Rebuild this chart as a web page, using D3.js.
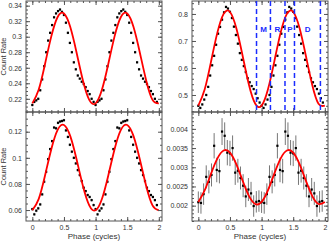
<!DOCTYPE html>
<html>
<head>
<meta charset="utf-8">
<script src="https://cdn.jsdelivr.net/npm/d3@7"></script>
<style>
body { margin: 0; background: #fff; }
text { font-family: "Liberation Sans", Arial, sans-serif; }
</style>
</head>
<body>
<div id="chart"></div>
<script>
// folded light curves, one cycle of bins each, plotted twice
var tlRate = [0.212, 0.216, 0.218, 0.220, 0.231, 0.245, 0.262, 0.280, 0.295, 0.305, 0.315, 0.325,
  0.330, 0.333, 0.335, 0.332, 0.328, 0.318, 0.305, 0.292, 0.280, 0.267, 0.258, 0.250,
  0.246, 0.242, 0.239, 0.235, 0.230, 0.226, 0.220, 0.216];
var trRate = [0.460, 0.452, 0.465, 0.483, 0.500, 0.530, 0.572, 0.610, 0.645, 0.686, 0.727, 0.752,
  0.779, 0.806, 0.826, 0.820, 0.808, 0.785, 0.753, 0.722, 0.690, 0.655, 0.630, 0.607,
  0.585, 0.562, 0.547, 0.533, 0.522, 0.505, 0.488, 0.472];
var blRate = [0.0607, 0.0567, 0.0595, 0.0613, 0.0643, 0.0720, 0.0817, 0.0893, 0.0990, 0.1067, 0.1128, 0.1232,
  0.1226, 0.1268, 0.1278, 0.1282, 0.1288, 0.1210, 0.1160, 0.1100, 0.1047, 0.1000, 0.0957, 0.0906,
  0.0868, 0.0822, 0.0771, 0.0745, 0.0715, 0.0700, 0.0676, 0.0638];
var brRate = [0.00209, 0.00207, 0.00230, 0.00275, 0.00262, 0.00280, 0.00356, 0.00293, 0.00290, 0.00393, 0.00382, 0.00338,
  0.00336, 0.00350, 0.00286, 0.00291, 0.00272, 0.00252, 0.00224, 0.00242, 0.00232, 0.00199, 0.00210, 0.00212];
var brErr = [0.00028, 0.00028, 0.00028, 0.00030, 0.00030, 0.00030, 0.00033, 0.00032, 0.00032, 0.00035, 0.00035, 0.00033,
  0.00033, 0.00033, 0.00032, 0.00031, 0.00030, 0.00030, 0.00028, 0.00030, 0.00030, 0.00028, 0.00028, 0.00028];

// sinusoid fits read at 0.1 phase steps
var fitPhase = [0, 0.1, 0.2, 0.3, 0.4, 0.5, 0.6, 0.7, 0.8, 0.9, 1.0];
var tlFit = [0.2141, 0.2316, 0.2646, 0.3004, 0.3254, 0.3299, 0.3124, 0.2794, 0.2436, 0.2186, 0.2141];
var trFit = [0.4606, 0.5200, 0.6227, 0.7300, 0.8005, 0.8074, 0.7480, 0.6453, 0.5380, 0.4675, 0.4606];
var blFit = [0.0598, 0.0684, 0.0863, 0.1066, 0.1214, 0.1252, 0.1166, 0.0987, 0.0784, 0.0636, 0.0598];
var brFit = [0.002097, 0.002398, 0.002829, 0.003226, 0.003437, 0.003383, 0.003082, 0.002651, 0.002254, 0.002043, 0.002097];

// tick values
var phaseTicks = [0, 0.5, 1, 1.5, 2];
var tlTicks = [0.22, 0.24, 0.26, 0.28, 0.3, 0.32, 0.34];
var trTicks = [0.5, 0.6, 0.7, 0.8];
var blTicks = [0.06, 0.08, 0.1, 0.12];
var brTicks = [0.002, 0.0025, 0.003, 0.0035, 0.004];

// phase-region boundaries in the top right panel
var cutPhase = [0.92, 1.14, 1.37, 1.52, 1.93];
var regionNames = ["M", "R", "P", "D"];
var regionPhase = [1.03, 1.25, 1.45, 1.73];

var width = 331;
var height = 241;
var colX = [[26, 162], [192, 328]];
var rowY = [[1, 112], [112, 221]];
var axisCol = "#555";
var textCol = "#333";

var svg = d3.select("#chart")
  .append("svg")
  .attr("width", width)
  .attr("height", height);

var panels = [
  { col: 0, row: 0, rate: tlRate, err: 0.0018, fit: tlFit, ticks: tlTicks, minor: 0.005, yDom: [0.203, 0.346] },
  { col: 1, row: 0, rate: trRate, err: 0.005, fit: trFit, ticks: trTicks, minor: 0.02, yDom: [0.437, 0.848] },
  { col: 0, row: 1, rate: blRate, err: 0.0012, fit: blFit, ticks: blTicks, minor: 0.005, yDom: [0.0516, 0.1351] },
  { col: 1, row: 1, rate: brRate, err: brErr, fit: brFit, ticks: brTicks, minor: 0.0001, yDom: [0.0016, 0.00444] }
];

function styleAxis(g) {
  g.select(".domain").remove();
  g.selectAll("line").attr("stroke", axisCol);
  g.selectAll("text").attr("fill", textCol).attr("font-size", 7)
    .attr("font-family", "Liberation Sans, Arial, sans-serif");
}

function drawPanel(p) {
  var x0 = colX[p.col][0], x1 = colX[p.col][1];
  var y0 = rowY[p.row][0], y1 = rowY[p.row][1];
  var x = d3.scaleLinear().domain([-0.1, 2.05]).range([x0, x1]);
  var y = d3.scaleLinear().domain(p.yDom).range([y1, y0]);
  var g = svg.append("g");

  // two cycles of points
  var pts = [];
  [0, 1].forEach(function(c) {
    p.rate.forEach(function(v, i) {
      pts.push({ ph: i / p.rate.length + c, v: v, e: Array.isArray(p.err) ? p.err[i] : p.err });
    });
  });
  var fitPts = [];
  [0, 1].forEach(function(c) {
    p.fit.forEach(function(v, i) {
      if (c == 1 && i == 0) return;
      fitPts.push({ ph: fitPhase[i] + c, v: v });
    });
  });

  g.selectAll(".err").data(pts).enter().append("line")
    .attr("x1", d => x(d.ph)).attr("x2", d => x(d.ph))
    .attr("y1", d => y(d.v - d.e)).attr("y2", d => y(d.v + d.e))
    .attr("stroke", p.col == 1 && p.row == 1 ? "#777" : "#bbb")
    .attr("stroke-width", 1);

  g.selectAll(".pt").data(pts).enter().append("rect")
    .attr("x", d => x(d.ph) - 1.1).attr("y", d => y(d.v) - 1.1)
    .attr("width", 2.2).attr("height", 2.2)
    .attr("fill", "#000");

  g.append("path").datum(fitPts)
    .attr("fill", "none").attr("stroke", "#f00").attr("stroke-width", 1.8)
    .attr("d", d3.line().x(d => x(d.ph)).y(d => y(d.v)).curve(d3.curveNatural));

  // axes, ticks pointing inward on all four sides
  var yMinor = d3.range(Math.ceil(p.yDom[0] / p.minor), p.yDom[1] / p.minor).map(k => k * p.minor);
  var xMinor = d3.range(0, 21).map(k => k / 10);

  g.append("g").attr("transform", "translate(" + x0 + ",0)")
    .call(d3.axisLeft(y).tickValues(p.ticks).tickSize(-4).tickSizeOuter(0)
      .tickPadding(4).tickFormat(d => String(d)))
    .call(styleAxis);
  g.append("g").attr("transform", "translate(" + x0 + ",0)")
    .call(d3.axisLeft(y).tickValues(yMinor).tickSize(-2).tickSizeOuter(0).tickFormat(""))
    .call(styleAxis);
  g.append("g").attr("transform", "translate(" + x1 + ",0)")
    .call(d3.axisRight(y).tickValues(p.ticks).tickSize(-4).tickSizeOuter(0).tickFormat(""))
    .call(styleAxis);
  g.append("g").attr("transform", "translate(" + x1 + ",0)")
    .call(d3.axisRight(y).tickValues(yMinor).tickSize(-2).tickSizeOuter(0).tickFormat(""))
    .call(styleAxis);

  g.append("g").attr("transform", "translate(0," + y1 + ")")
    .call(d3.axisBottom(x).tickValues(phaseTicks).tickSize(-4).tickSizeOuter(0).tickPadding(4)
      .tickFormat(p.row == 1 ? (d => String(d)) : ""))
    .call(styleAxis);
  g.append("g").attr("transform", "translate(0," + y1 + ")")
    .call(d3.axisBottom(x).tickValues(xMinor).tickSize(-2).tickSizeOuter(0).tickFormat(""))
    .call(styleAxis);
  g.append("g").attr("transform", "translate(0," + y0 + ")")
    .call(d3.axisTop(x).tickValues(phaseTicks).tickSize(-4).tickSizeOuter(0).tickFormat(""))
    .call(styleAxis);
  g.append("g").attr("transform", "translate(0," + y0 + ")")
    .call(d3.axisTop(x).tickValues(xMinor).tickSize(-2).tickSizeOuter(0).tickFormat(""))
    .call(styleAxis);

  g.append("rect")
    .attr("x", x0).attr("y", y0).attr("width", x1 - x0).attr("height", y1 - y0)
    .attr("fill", "none").attr("stroke", axisCol).attr("stroke-width", 1);

  if (p.row == 1) {
    g.append("text")
      .attr("x", (x0 + x1) / 2).attr("y", 239)
      .attr("text-anchor", "middle").attr("font-size", 8).attr("fill", textCol)
      .text("Phase (cycles)");
  }
  if (p.col == 0) {
    g.append("text")
      .attr("transform", "translate(6," + (y0 + y1) / 2 + ")rotate(-90)")
      .attr("text-anchor", "middle").attr("font-size", 7.5).attr("fill", textCol)
      .text("Count Rate");
  }
  return { x: x, y: y, g: g };
}

var drawn = panels.map(drawPanel);

// phase regions on the top right panel
var tr = drawn[1];
tr.g.selectAll(".cut").data(cutPhase).enter().append("line")
  .attr("x1", d => tr.x(d)).attr("x2", d => tr.x(d))
  .attr("y1", rowY[0][0]).attr("y2", rowY[0][1])
  .attr("stroke", "#1a2cff").attr("stroke-width", 1.5)
  .attr("stroke-dasharray", "5,3");
tr.g.selectAll(".reg").data(regionNames).enter().append("text")
  .attr("x", (d, i) => tr.x(regionPhase[i]))
  .attr("y", 32)
  .attr("text-anchor", "middle")
  .attr("font-size", 8).attr("font-weight", "bold")
  .attr("fill", "#1a2cff")
  .text(d => d);
</script>
</body>
</html>
